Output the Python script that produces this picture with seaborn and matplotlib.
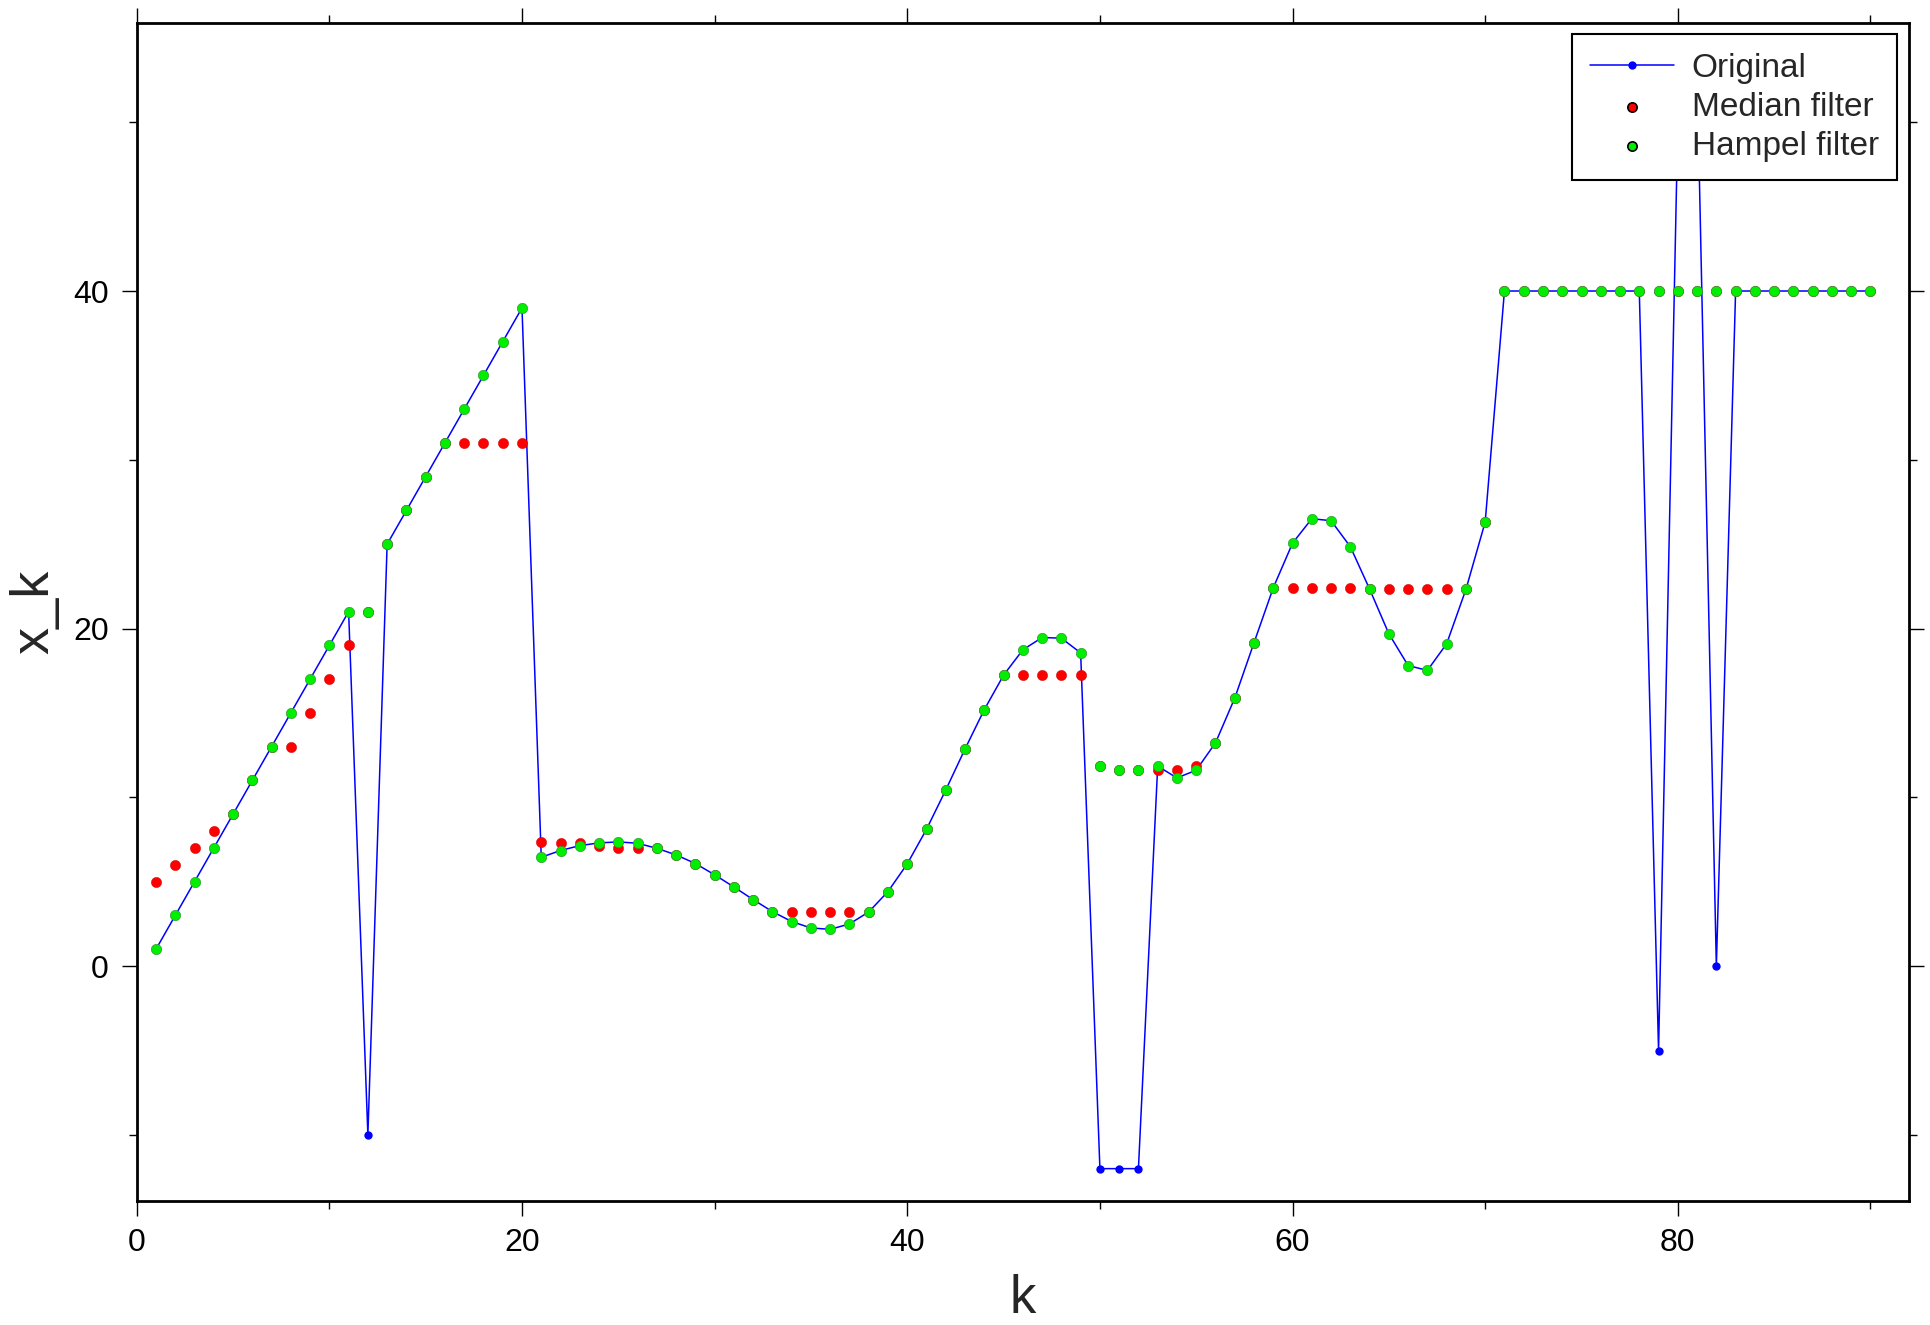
import matplotlib
matplotlib.use("Agg")
import matplotlib.pyplot as plt
from matplotlib.ticker import MultipleLocator
import numpy as np
import pandas as pd
import seaborn as sns

# ── Data ─────────────────────────────────────────────────────────────────────
k = list(range(1, 91))

original = [
    1, 3, 5, 7, 9, 11, 13, 15, 17, 19, 21,
    -10,
    25, 27, 29, 31, 33, 35, 37, 39,
    6.45, 6.85, 7.14, 7.30, 7.36, 7.28, 6.98, 6.59, 6.08, 5.41,
    4.69, 3.94, 3.23, 2.64, 2.26, 2.18, 2.50, 3.21, 4.42, 6.06,
    8.11, 10.44, 12.87, 15.20, 17.24, 18.74, 19.47, 19.43, 18.56,
    -12, -12, -12,
    11.85, 11.15, 11.61, 13.23, 15.88, 19.16, 22.42, 25.06, 26.51,
    26.39, 24.85, 22.34, 19.69, 17.81, 17.52, 19.10, 22.32, 26.31,
    40, 40, 40, 40, 40, 40, 40, 40,
    -5, 50, 53, 0,
    40, 40, 40, 40, 40, 40, 40, 40,
]

median_filt = [
    5, 6, 7, 8, 9, 11, 13, 13, 15, 17, 19, 21,
    25, 27, 29, 31, 31, 31, 31, 31,
    7.36, 7.30, 7.28, 7.14, 6.98, 6.98, 6.98,
    6.59, 6.08, 5.41, 4.69, 3.94, 3.23,
    3.21, 3.21, 3.21, 3.21, 3.21,
    4.42, 6.06, 8.11, 10.44, 12.87, 15.20, 17.24,
    17.24, 17.24, 17.24, 17.24,
    11.85, 11.61, 11.61, 11.61, 11.61, 11.85,
    13.23, 15.88, 19.16, 22.42,
    22.42, 22.42, 22.42, 22.42,
    22.34,
    22.32, 22.32, 22.32, 22.32,
    22.32, 26.31,
    40, 40, 40, 40, 40, 40, 40, 40, 40, 40,
    40, 40, 40, 40, 40, 40, 40, 40, 40, 40,
]

hampel_filt = [
    1, 3, 5, 7, 9, 11, 13, 15, 17, 19, 21,
    21,
    25, 27, 29, 31, 33, 35, 37, 39,
    6.45, 6.85, 7.14, 7.30, 7.36, 7.28, 6.98, 6.59, 6.08, 5.41,
    4.69, 3.94, 3.23, 2.64, 2.26, 2.18, 2.50, 3.21, 4.42, 6.06,
    8.11, 10.44, 12.87, 15.20, 17.24, 18.74, 19.47, 19.43, 18.56,
    11.85, 11.61, 11.61,
    11.85, 11.15, 11.61, 13.23, 15.88, 19.16, 22.42, 25.06, 26.51,
    26.39, 24.85, 22.34, 19.69, 17.81, 17.52, 19.10, 22.32, 26.31,
    40, 40, 40, 40, 40, 40, 40, 40,
    40, 40, 40, 40,
    40, 40, 40, 40, 40, 40, 40, 40,
]

df = pd.DataFrame({"k": k, "Original": original,
                   "Median filter": median_filt, "Hampel filter": hampel_filt})

# ── Styling ──────────────────────────────────────────────────────────────────
sns.set_style("white")
plt.rcParams["font.family"] = ["Liberation Sans", "DejaVu Sans"]

fig = plt.figure(figsize=(19.31, 13.25), dpi=100)
ax = fig.add_axes([0.0708, 0.0938, 0.9178, 0.8891])

sns.lineplot(data=df, x="k", y="Original", ax=ax, color="#0000ff",
             linewidth=1.1, marker="o", markersize=6, markeredgewidth=0,
             label="Original")
sns.scatterplot(data=df, x="k", y="Median filter", ax=ax, color="#ff0000",
                s=55, edgecolor="#cc0000", linewidth=0.3, label="Median filter",
                zorder=3)
sns.scatterplot(data=df, x="k", y="Hampel filter", ax=ax, color="#00ee00",
                s=55, edgecolor="#339933", linewidth=0.5, label="Hampel filter",
                zorder=4)

ax.set_xlim(0, 92)
ax.set_ylim(-13.9, 55.9)
ax.xaxis.set_major_locator(MultipleLocator(20))
ax.xaxis.set_minor_locator(MultipleLocator(10))
ax.yaxis.set_major_locator(MultipleLocator(20))
ax.yaxis.set_minor_locator(MultipleLocator(10))

ax.tick_params(which="both", direction="out", top=True, right=True,
               bottom=True, left=True, width=1.0, colors="black")
ax.tick_params(which="major", length=11, labelsize=23, pad=9)
ax.tick_params(which="minor", length=6)

for sp in ax.spines.values():
    sp.set_color("black")
    sp.set_linewidth(2)

ax.set_xlabel("k", fontsize=38, labelpad=11)
ax.set_ylabel("x_k", fontsize=39, labelpad=10)

# Legend: black square frame, markers with dark outline
leg = ax.legend(loc="upper right", fontsize=24, frameon=True, fancybox=False,
                edgecolor="black", framealpha=1, borderaxespad=0.35,
                labelspacing=0.24, handlelength=2.5, handletextpad=0.55,
                borderpad=0.55)
leg.get_frame().set_linewidth(1.5)
for h in leg.legend_handles[1:]:
    h.set_edgecolor("black")
    h.set_linewidth(1.2)
    h.set_sizes([45])

fig.savefig("out.png", dpi=100)
